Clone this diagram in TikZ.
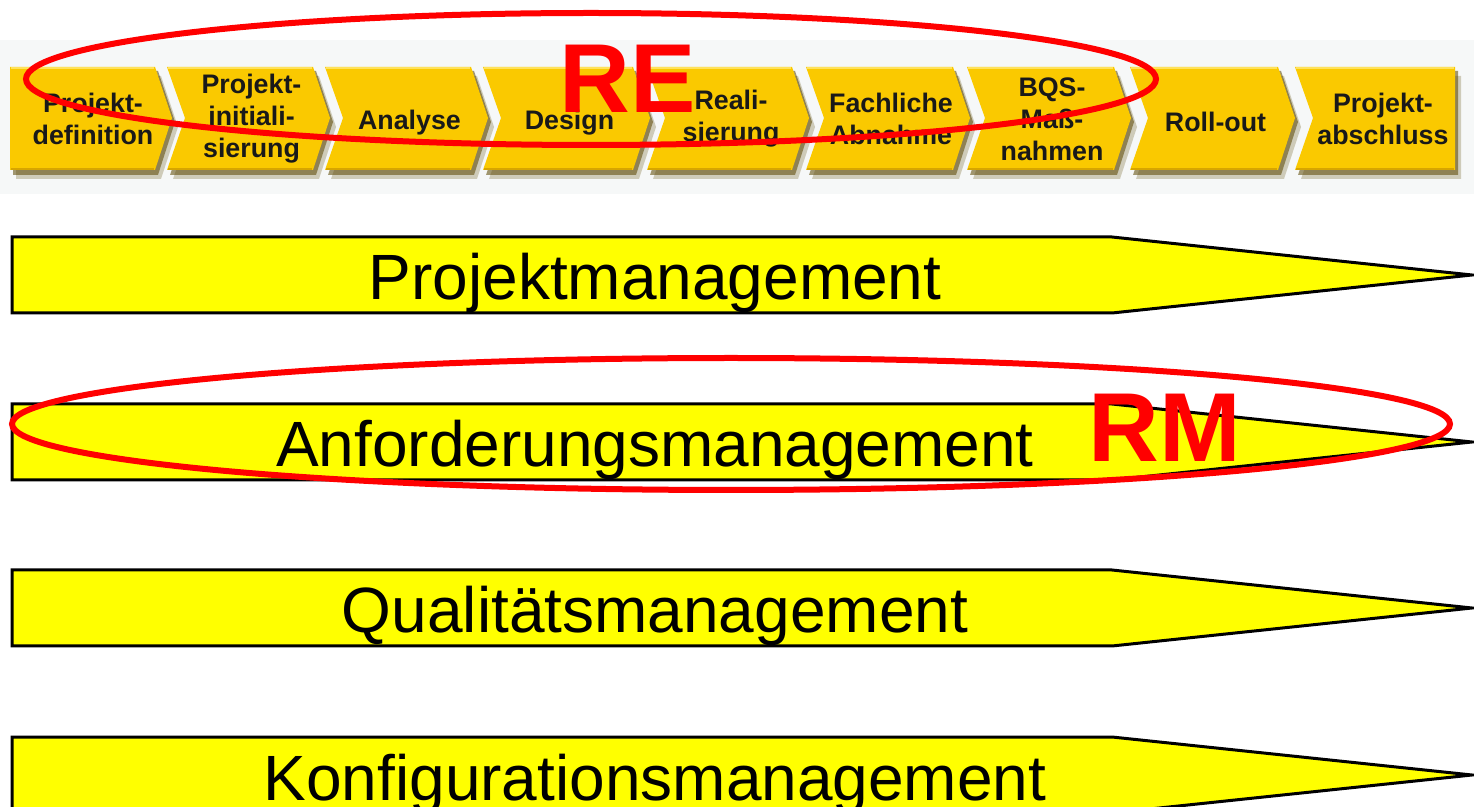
\documentclass[tikz,border=0pt]{standalone}
\usepackage{fontspec}
\setmainfont{Liberation Sans}
\definecolor{gold}{RGB}{250,201,0}
\definecolor{goldlight}{RGB}{255,226,90}
\definecolor{golddark}{RGB}{215,165,0}
\definecolor{shade}{RGB}{90,70,0}
\definecolor{barY}{RGB}{255,255,0}
\definecolor{redE}{RGB}{255,0,0}
\definecolor{bgstrip}{RGB}{246,248,248}
\begin{document}
\begin{tikzpicture}[x=0.5pt,y=-0.5pt,
  chev/.style={fill=gold},
  chevshadow/.style={fill=shade, opacity=0.55},
  chevshadowb/.style={fill=shade, opacity=0.25},
  phase/.style={font=\fontsize{13.4pt}{16pt}\selectfont\bfseries, align=center, inner sep=0pt, text=black!90},
  bar/.style={fill=barY, draw=black, line width=1.5pt, line join=miter},
  bartext/.style={font=\fontsize{32pt}{38pt}\selectfont, anchor=base, inner sep=0pt},
  redring/.style={draw=redE, line width=3pt},
  bigred/.style={font=\fontsize{49pt}{55pt}\selectfont\bfseries, text=redE, anchor=base, inner sep=0pt}
]
\useasboundingbox (0,0) rectangle (1474,807);
\fill[bgstrip] (0,40) rectangle (1474,194);

% --- phase chevrons ---
% first chevron (flat left)
\fill[chevshadowb] (16,76) -- (161,76) -- (178,127) -- (161,179) -- (16,179) -- cycle;
\fill[chevshadow] (13,71) -- (158,71) -- (175,122) -- (158,175) -- (13,175) -- cycle;
\fill[chev] (10,67) -- (155,67) -- (172,118) -- (155,170) -- (10,170) -- cycle;
\draw[goldlight, line width=1pt] (11,68) -- (154,68);
\draw[golddark, line width=1pt] (11,169) -- (154,169);
\node[phase] (ph1) at (93,119) {Projekt-\\definition};

\foreach \a/\b/\yy/\t [count=\i from 2] in {
  167/313/119/{Projekt-\\initiali-\\sierung},
  325/471/123/{Analyse},
  483/633/123/{Design},
  647/792/119/{Reali-\\sierung},
  806/953/119/{Fachliche\\Abnahme},
  967/1114/119/{BQS-\\Maß-\\nahmen},
  1130/1278/122/{Roll-out}}{
  \fill[chevshadowb] (\a+6,76) -- (\b+6,76) -- (\b+23,127) -- (\b+6,179) -- (\a+6,179) -- (\a+24,127) -- cycle;
  \fill[chevshadow] (\a+3,71) -- (\b+3,71) -- (\b+20,122) -- (\b+3,175) -- (\a+3,175) -- (\a+21,122) -- cycle;
  \fill[chev] (\a,67) -- (\b,67) -- (\b+17,118) -- (\b,170) -- (\a,170) -- (\a+18,118) -- cycle;
  \draw[goldlight, line width=1pt] (\a+1,68) -- (\b-1,68);
  \draw[golddark, line width=1pt] (\a+1,169) -- (\b-1,169);
  \node[phase] (ph\i) at ({(\a+\b+17)/2+3},\yy) {\t};
}
% last chevron (flat right)
\fill[chevshadowb] (1301,76) -- (1461,76) -- (1461,179) -- (1301,179) -- (1319,127) -- cycle;
\fill[chevshadow] (1298,71) -- (1458,71) -- (1458,175) -- (1298,175) -- (1316,122) -- cycle;
\fill[chev] (1295,67) -- (1455,67) -- (1455,170) -- (1295,170) -- (1313,118) -- cycle;
\draw[goldlight, line width=1pt] (1296,68) -- (1454,68);
\draw[golddark, line width=1pt] (1296,169) -- (1454,169);
\node[phase] (ph9) at (1383,119) {Projekt-\\abschluss};

% --- management bars ---
\foreach \y/\t/\n in {237/Projektmanagement/pm, 404/Anforderungsmanagement/am, 570/Qualitätsmanagement/qm, 737/Konfigurationsmanagement/km}{
  \draw[bar] (12,\y) -- (1112,\y) -- (1472,\y+38) -- (1112,\y+76) -- (12,\y+76) -- cycle;
  \node[bartext] (\n) at (655,\y+63) {\t};
}

% --- red annotations ---
\draw[redring] (591,79) ellipse [x radius=282.5pt, y radius=33pt];
\node[bigred] (re) at (628,113) {RE};
\draw[redring] (731,424) ellipse [x radius=359.5pt, y radius=33pt];
\node[bigred] (rm) at (1165,462) {RM};
\end{tikzpicture}
\end{document}
